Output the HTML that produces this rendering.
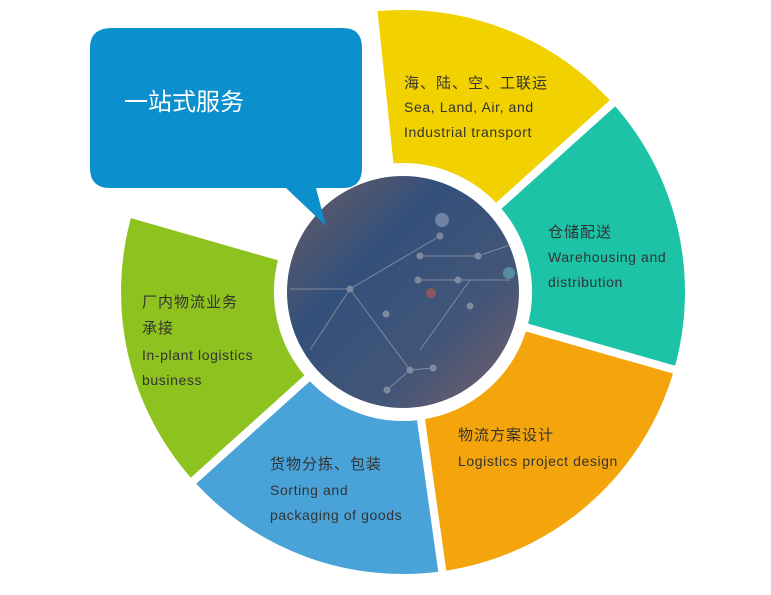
<!DOCTYPE html>
<html><head><meta charset="utf-8"><style>
body{margin:0;background:#fff;width:771px;height:590px;overflow:hidden;font-family:"Liberation Sans","Noto Sans CJK SC",sans-serif}
</style></head><body>
<svg width="771" height="590" viewBox="0 0 771 590" xmlns="http://www.w3.org/2000/svg">
<defs>
<linearGradient id="g" x1="0" y1="0" x2="1" y2="1">
<stop offset="0" stop-color="#6d5d66"/><stop offset="0.35" stop-color="#33507a"/><stop offset="0.7" stop-color="#445678"/><stop offset="1" stop-color="#7a6068"/>
</linearGradient>
</defs>
<g id="segs" stroke="#fff" stroke-width="8" stroke-linejoin="miter"></g>
<circle cx="403" cy="292" r="116" fill="url(#g)"/>
<g stroke="#9aa0ad" stroke-width="1" fill="#9aa0ad" opacity="0.7">
<line x1="350" y1="289" x2="440" y2="236"/><line x1="290" y1="289" x2="350" y2="289"/>
<line x1="350" y1="289" x2="410" y2="370"/><line x1="410" y1="370" x2="433" y2="368"/>
<line x1="420" y1="350" x2="470" y2="280"/><line x1="418" y1="280" x2="510" y2="280"/>
<line x1="420" y1="256" x2="478" y2="256"/><line x1="478" y1="256" x2="510" y2="245"/>
<line x1="310" y1="350" x2="350" y2="289"/><line x1="410" y1="370" x2="387" y2="390"/>
<circle cx="350" cy="289" r="3"/><circle cx="410" cy="370" r="3"/><circle cx="440" cy="236" r="3"/>
<circle cx="418" cy="280" r="3"/><circle cx="458" cy="280" r="3"/><circle cx="478" cy="256" r="3"/>
<circle cx="420" cy="256" r="3"/><circle cx="386" cy="314" r="3"/><circle cx="470" cy="306" r="3"/>
<circle cx="387" cy="390" r="3"/><circle cx="433" cy="368" r="3"/>
</g>
<circle cx="442" cy="220" r="7" fill="#8090b0" opacity="0.8"/>
<circle cx="431" cy="293" r="5" fill="#a05a5a" opacity="0.8"/>
<circle cx="509" cy="273" r="6" fill="#5a9aaa" opacity="0.8"/>
<path d="M112 28 H343 Q362 28 362 48 V168 Q362 188 343 188 H316 L326 226 L286 188 H110 Q90 188 90 168 V48 Q90 28 112 28Z" fill="#0b8fcd"/>
<text x="124" y="110" font-size="24" fill="#fff" font-family="Liberation Sans,Noto Sans CJK SC,sans-serif">一站式服务</text>
<g font-size="14" fill="#333" letter-spacing="0.6" font-family="Liberation Sans,Noto Sans CJK SC,sans-serif">
<text x="404" y="88" font-size="15" letter-spacing="1">海、陆、空、工联运</text>
<text x="404" y="112">Sea, Land, Air, and</text>
<text x="404" y="137">Industrial transport</text>
<text x="548" y="237" font-size="15" letter-spacing="1">仓储配送</text>
<text x="548" y="262">Warehousing and</text>
<text x="548" y="287">distribution</text>
<text x="458" y="440" font-size="15" letter-spacing="1">物流方案设计</text>
<text x="458" y="466">Logistics project design</text>
<text x="270" y="469" font-size="15" letter-spacing="1">货物分拣、包装</text>
<text x="270" y="495">Sorting and</text>
<text x="270" y="520">packaging of goods</text>
<text x="142" y="307" font-size="15" letter-spacing="1">厂内物流业务</text>
<text x="142" y="333" font-size="15" letter-spacing="1">承接</text>
<text x="142" y="360">In-plant logistics</text>
<text x="142" y="385">business</text>
</g>
<script>
(function(){
var cx=403,cy=292,R=286,r=125;
var segs=[[-96,-42,"#f2d100"],[-42,16,"#1dc3a7"],[16,82,"#f4a50b"],[82,138,"#4aa3d8"],[138,196,"#8ec21f"]];
var g=document.getElementById("segs");
segs.forEach(function(s){
var a=s[0]*Math.PI/180,b=s[1]*Math.PI/180;
function p(rr,t){return (cx+rr*Math.cos(t)).toFixed(1)+" "+(cy+rr*Math.sin(t)).toFixed(1);}
var d="M"+p(r,a)+" L"+p(R,a)+" A"+R+" "+R+" 0 0 1 "+p(R,b)+" L"+p(r,b)+" A"+r+" "+r+" 0 0 0 "+p(r,a)+"Z";
var e=document.createElementNS("http://www.w3.org/2000/svg","path");
e.setAttribute("d",d);e.setAttribute("fill",s[2]);g.appendChild(e);
});
})();
</script>
</svg>
</body></html>
